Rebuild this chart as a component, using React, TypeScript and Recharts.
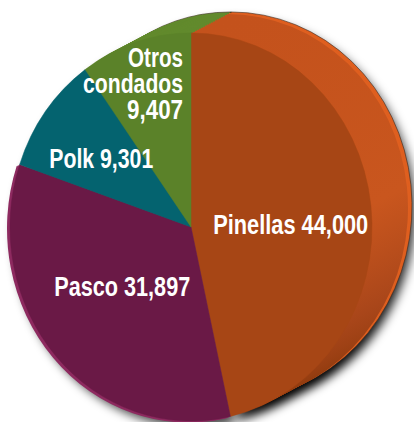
import React from 'react';
import { PieChart, Pie } from 'recharts';

const COUNTIES = ['Pinellas', 'Pasco', 'Polk', 'Otros condados'];
const RESIDENTS = [44000, 31897, 9301, 9407];
const FACE_COLORS = ['#a74615', '#6a1946', '#04636f', '#5b8229'];
const SIDE_COLORS = ['url(#pinellasSide)', '#8e2b60', '#0a6a75', '#628a2d'];

const data = COUNTIES.map((name, i) => ({ name, value: RESIDENTS[i] }));

const W = 414;
const H = 422;
const CX = 191;
const CY = 227;
const RX = 181;
const SQUASH = 1.072; // vertical stretch of the tilted disc

// extrusion per slice: step and number of layers
const DEPTH = [
  { dx: 2, dy: -1.05, n: 20 },
  { dx: -1, dy: 0.5, n: 3 },
  { dx: 2, dy: -1.05, n: 20 },
  { dx: 2, dy: -1.05, n: 20 },
];

// label anchor relative to the centre, in units of the radius; widths squeeze the type
const LABEL_POS = [
  { x: 0.551, y: 0.036, anchor: 'middle', widths: [155] },
  { x: -0.38, y: 0.358, anchor: 'middle', widths: [136] },
  { x: -0.496, y: -0.306, anchor: 'middle', widths: [104] },
  { x: -0.044, y: -0.826, anchor: 'end', widths: [55, 100, 56] },
];
const LINE_GAP = 26.3;

const FONT = "'Liberation Sans', Arial, sans-serif";

const fmt = (v: number) => v.toLocaleString('en-US');

function wedge(cx: number, cy: number, rx: number, ry: number, a0: number, a1: number) {
  const rad = Math.PI / 180;
  const x0 = cx + rx * Math.cos(a0 * rad);
  const y0 = cy - ry * Math.sin(a0 * rad);
  const x1 = cx + rx * Math.cos(a1 * rad);
  const y1 = cy - ry * Math.sin(a1 * rad);
  const large = Math.abs(a1 - a0) > 180 ? 1 : 0;
  const sweep = a1 < a0 ? 1 : 0;
  return `M${cx},${cy}L${x0},${y0}A${rx},${ry} 0 ${large} ${sweep} ${x1},${y1}Z`;
}

const sliceIndex = (p: any) => COUNTIES.indexOf(p.name ?? p.payload?.name);

const ShadowShape = (p: any) => {
  const i = sliceIndex(p);
  const d = DEPTH[i];
  const r = p.outerRadius;
  const paths = [];
  for (let k = 0; k <= d.n; k += 2) {
    paths.push(
      <path key={k} d={wedge(p.cx + k * d.dx + 5, p.cy + k * d.dy + 6, r, r * SQUASH, p.startAngle, p.endAngle)} />
    );
  }
  return (
    <g fill="#000" fillOpacity={0.45} filter="url(#pieShadow)">
      {paths}
    </g>
  );
};

const sideLayers = (p: any, i: number) => {
  const d = DEPTH[i];
  const r = p.outerRadius;
  const paths = [];
  for (let k = d.n; k >= 1; k--) {
    let fill = SIDE_COLORS[i];
    if (i === 0 && k >= d.n - 1) fill = '#df5f1f';
    paths.push(
      <path
        key={k}
        d={wedge(p.cx + k * d.dx, p.cy + k * d.dy, r, r * SQUASH, p.startAngle, p.endAngle)}
        fill={fill}
        stroke={k === d.n && i !== 1 ? '#3a2a20' : 'none'}
        strokeWidth={0.6}
      />
    );
  }
  return <g>{paths}</g>;
};

// sides of the smaller slices first, Pinellas' wall on top of them
const SideShape = (p: any) => {
  const i = sliceIndex(p);
  return i === 0 ? <g /> : sideLayers(p, i);
};

const PinellasSideShape = (p: any) => {
  const i = sliceIndex(p);
  return i === 0 ? sideLayers(p, i) : <g />;
};

const FaceShape = (p: any) => {
  const i = sliceIndex(p);
  const r = p.outerRadius;
  return (
    <path
      d={wedge(p.cx, p.cy, r, r * SQUASH, p.startAngle, p.endAngle)}
      fill={FACE_COLORS[i]}
      stroke={FACE_COLORS[i]}
      strokeWidth={0.5}
    />
  );
};

const renderLabel = (p: any) => {
  const i = sliceIndex(p);
  const pos = LABEL_POS[i];
  const cx = p.cx ?? CX;
  const cy = p.cy ?? CY;
  const r = p.outerRadius ?? RX;
  const x = cx + pos.x * r;
  const y = cy + pos.y * r * SQUASH;
  const lines = i === 3 ? [...COUNTIES[i].split(' '), fmt(RESIDENTS[i])] : [`${COUNTIES[i]} ${fmt(RESIDENTS[i])}`];
  return (
    <g key={`label-${i}`}>
      {lines.map((l, j) => (
        <text
          key={j}
          x={x}
          y={y + j * LINE_GAP}
          textAnchor={pos.anchor}
          fill="#fff"
          fontFamily={FONT}
          fontWeight="bold"
          fontSize={27}
          textLength={pos.widths[j]}
          lengthAdjust="spacingAndGlyphs"
        >
          {l}
        </text>
      ))}
    </g>
  );
};

export default function App() {
  const common = {
    data,
    dataKey: 'value',
    nameKey: 'name',
    cx: CX,
    cy: CY,
    outerRadius: RX,
    startAngle: 90,
    endAngle: -270,
    stroke: 'none',
    isAnimationActive: false,
  };
  return (
    <div style={{ position: 'absolute', left: 0, top: 0, width: W, height: H, background: '#fff' }}>
      <PieChart width={W} height={H} margin={{ top: 0, right: 0, bottom: 0, left: 0 }}>
        <defs>
          <filter id="pieShadow" x="-20%" y="-20%" width="140%" height="140%">
            <feGaussianBlur stdDeviation="5" />
          </filter>
          <linearGradient id="pinellasSide" x1="0" y1="0" x2="0" y2="1">
            <stop offset="0%" stopColor="#c4521c" />
            <stop offset="45%" stopColor="#c9561e" />
            <stop offset="75%" stopColor="#a9461a" />
            <stop offset="100%" stopColor="#8c390c" />
          </linearGradient>
        </defs>
        <Pie {...common} shape={ShadowShape} />
        <Pie {...common} shape={SideShape} />
        <Pie {...common} shape={PinellasSideShape} />
        <Pie {...common} shape={FaceShape} label={renderLabel} labelLine={false} />
      </PieChart>
    </div>
  );
}
